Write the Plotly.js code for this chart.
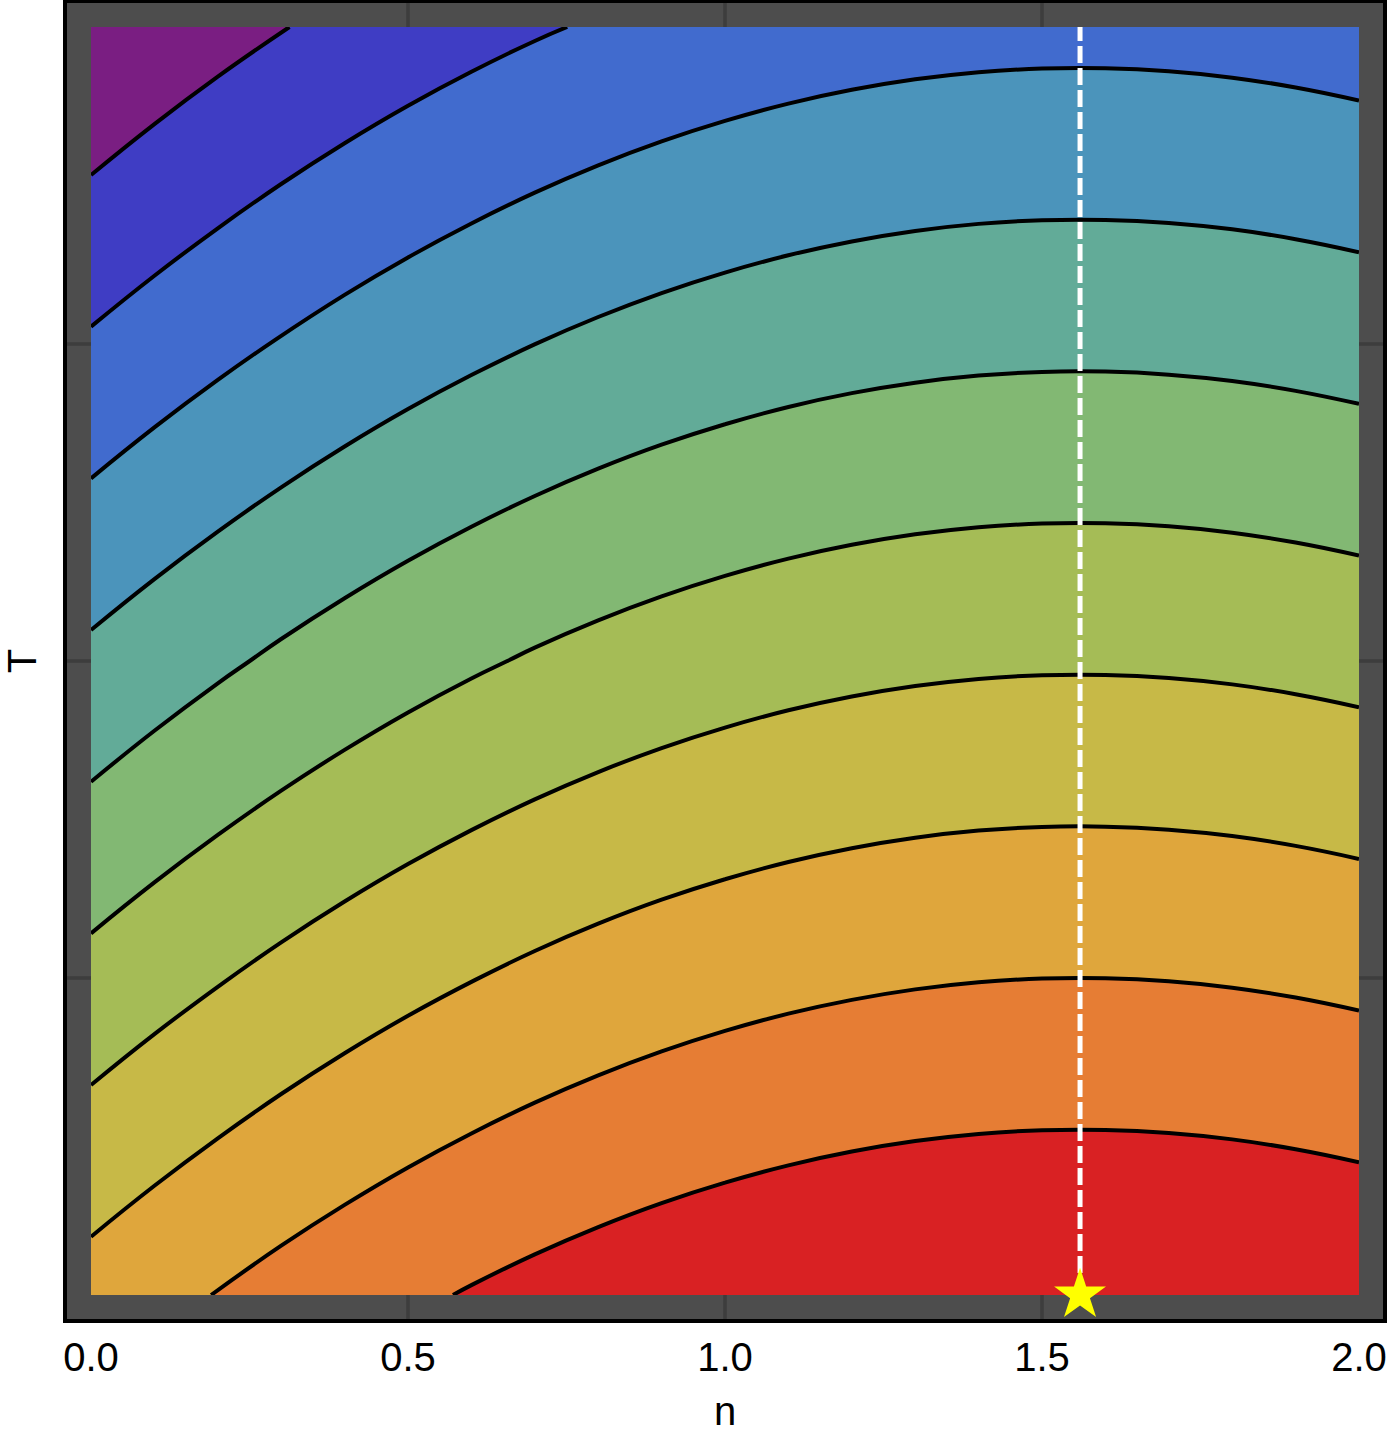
<!DOCTYPE html>
<html>
<head>
<meta charset="utf-8">
<script src="https://cdn.plot.ly/plotly-3.0.1.min.js"></script>
<style>
  html, body { margin: 0; padding: 0; background: #ffffff; }
  #chart { width: 1389px; height: 1440px; }
</style>
</head>
<body>
<div id="chart"></div>
<script>
// grid
const nValues = [0, 0.1, 0.2, 0.3, 0.4, 0.5, 0.6, 0.7, 0.8, 0.9, 1.0,
                 1.1, 1.2, 1.3, 1.4, 1.5, 1.6, 1.7, 1.8, 1.9, 2.0];
const tValues = [0, 0.25, 0.5, 0.75, 1];
// level on the ridge (n = nStar) for each T row
const ridgeLevel = [11.09, 9.0, 6.91, 4.82, 2.73];
// drop below the ridge for each n column
const dropFromRidge = [-2.706, -2.370, -2.057, -1.765, -1.496, -1.249, -1.025, -0.822,
                       -0.642, -0.484, -0.349, -0.235, -0.144, -0.075, -0.028, -0.004,
                       -0.002, -0.022, -0.064, -0.129, -0.215];
const contourLevels = [1, 10, 1]; // start, end, size
const bandColors = ['#7a1e82', '#3f3dc4', '#416bce', '#4b94bb', '#62ab98', '#82b873',
                    '#a5bc56', '#c7b947', '#dfa63c', '#e67d34', '#d92123'];
const nStar = 1.56;
const tStar = 0;
const xTicks = [0, 0.5, 1, 1.5, 2];
const xTickText = ['0.0', '0.5', '1.0', '1.5', '2.0'];
const xGrid = [0.5, 1, 1.5];
const yGrid = [0.25, 0.5, 0.75];

const zGrid = ridgeLevel.map(r => dropFromRidge.map(d => r + d));

// one stop per band, spread evenly over the scale
const colorscale = bandColors.map((c, k) => [k / (bandColors.length - 1), c]);

const contourTrace = {
    type: 'contour',
    x: nValues,
    y: tValues,
    z: zGrid,
    colorscale: colorscale,
    showscale: false,
    autocontour: false,
    contours: {
        start: contourLevels[0],
        end: contourLevels[1],
        size: contourLevels[2],
        coloring: 'fill'
    },
    line: { color: 'black', width: 4, smoothing: 1.3 },
    hoverinfo: 'skip'
};

const ridgeLine = {
    type: 'scatter',
    mode: 'lines',
    x: [nStar, nStar],
    y: [tStar, tValues[tValues.length - 1]],
    line: { color: 'white', width: 5, dash: '17px,5px' },
    showlegend: false,
    hoverinfo: 'skip'
};

const starMarker = {
    type: 'scatter',
    mode: 'markers',
    x: [nStar],
    y: [tStar],
    marker: { symbol: 'star', size: 39, color: '#ffff00', line: { width: 0 } },
    cliponaxis: false,
    showlegend: false,
    hoverinfo: 'skip'
};

// grid lines only at the inner ticks, under the contours
const gridStyle = { color: '#3d3d3d', width: 3.5 };
const shapes = xGrid.map(v => ({
    type: 'line', layer: 'below', xref: 'x', yref: 'paper',
    x0: v, x1: v, y0: 0, y1: 1, line: gridStyle
})).concat(yGrid.map(v => ({
    type: 'line', layer: 'below', xref: 'paper', yref: 'y',
    x0: 0, x1: 1, y0: v, y1: v, line: gridStyle
})));

const font = 'Liberation Sans, Arial, Helvetica, sans-serif';

const layout = {
    width: 1389,
    height: 1440,
    margin: { l: 67, r: 6, t: 3, b: 121 },
    paper_bgcolor: '#ffffff',
    plot_bgcolor: '#4d4d4d',
    font: { family: font, size: 40, color: 'black' },
    showlegend: false,
    shapes: shapes,
    xaxis: {
        range: [-0.03785, 2.03785],
        tickvals: xTicks,
        ticktext: xTickText,
        ticks: '',
        showgrid: false,
        zeroline: false,
        showline: true,
        mirror: true,
        linecolor: 'black',
        linewidth: 4,
        tickfont: { family: font, size: 40, color: 'black' },
        title: { text: 'n', font: { family: font, size: 40, color: 'black' }, standoff: 20 },
        automargin: false
    },
    yaxis: {
        range: [-0.01893, 1.01893],
        showticklabels: false,
        ticks: '',
        showgrid: false,
        zeroline: false,
        showline: true,
        mirror: true,
        linecolor: 'black',
        linewidth: 4,
        title: { text: 'T', font: { family: font, size: 40, color: 'black' }, standoff: 26 },
        automargin: false
    }
};

Plotly.newPlot('chart', [contourTrace, ridgeLine, starMarker], layout, { displayModeBar: false });
</script>
</body>
</html>
